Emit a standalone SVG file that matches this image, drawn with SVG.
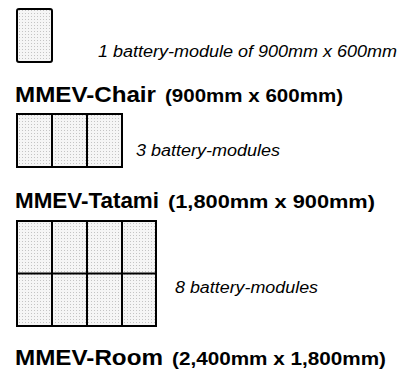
<svg xmlns="http://www.w3.org/2000/svg" width="401" height="374" viewBox="0 0 401 374">
  <defs>
    <pattern id="stip" width="3" height="3" patternUnits="userSpaceOnUse">
      <rect width="3" height="3" fill="#f5f5f5"/>
      <rect x="1" y="1" width="1" height="1" fill="#c4c4c4"/>
    </pattern>
  </defs>
  <style>
    .cell { fill: url(#stip); stroke: #000; stroke-width: 2; }
    .line { stroke: #000; stroke-width: 2; fill: none; }
    .note { font-family: "Liberation Sans", Arial, sans-serif; font-style: italic; font-size: 16px; fill: #000; }
    .head { font-family: "Liberation Sans", Arial, sans-serif; font-weight: bold; font-size: 22px; fill: #000; }
    .dim { font-family: "Liberation Sans", Arial, sans-serif; font-weight: bold; font-size: 18px; fill: #000; }
  </style>

  <g id="module">
    <rect class="cell" x="17" y="9" width="35" height="53" rx="2"/>
    <text class="note" x="98" y="57" textLength="299" lengthAdjust="spacingAndGlyphs">1 battery-module of 900mm x 600mm</text>
  </g>

  <g id="chair">
    <text class="head" x="15" y="102" textLength="141" lengthAdjust="spacingAndGlyphs">MMEV-Chair</text>
    <text class="dim" x="165" y="102" textLength="178" lengthAdjust="spacingAndGlyphs">(900mm x 600mm)</text>
    <rect class="cell" x="17" y="114" width="105" height="53"/>
    <path class="line" d="M52 114V167M87 114V167"/>
    <text class="note" x="136" y="156" textLength="144" lengthAdjust="spacingAndGlyphs">3 battery-modules</text>
  </g>

  <g id="tatami">
    <text class="head" x="15" y="208" textLength="144" lengthAdjust="spacingAndGlyphs">MMEV-Tatami</text>
    <text class="dim" x="168" y="208" textLength="207" lengthAdjust="spacingAndGlyphs">(1,800mm x 900mm)</text>
    <rect class="cell" x="17" y="221" width="139" height="105"/>
    <path class="line" d="M52 221V326M87 221V326M122 221V326M17 273.5H156"/>
    <text class="note" x="175" y="293" textLength="143" lengthAdjust="spacingAndGlyphs">8 battery-modules</text>
  </g>

  <g id="room">
    <text class="head" x="15" y="365" textLength="148" lengthAdjust="spacingAndGlyphs">MMEV-Room</text>
    <text class="dim" x="172" y="365" textLength="214" lengthAdjust="spacingAndGlyphs">(2,400mm x 1,800mm)</text>
  </g>

  <g id="connectors"/>
</svg>
